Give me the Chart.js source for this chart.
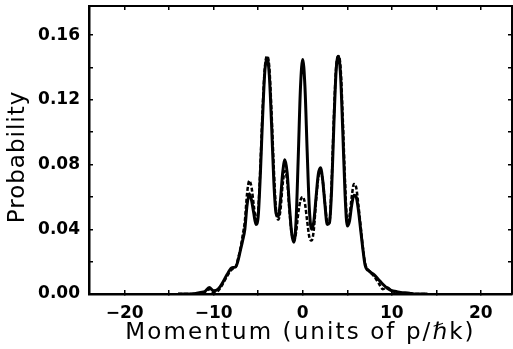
<!DOCTYPE html>
<html>
<head>
<meta charset="utf-8">
<script src="https://cdn.jsdelivr.net/npm/chart.js@4.4.1/dist/chart.umd.min.js"></script>
<style>
  html, body { margin: 0; padding: 0; background: #fff; }
  canvas { display: block; }
</style>
</head>
<body>
<canvas id="chart" width="513" height="349"></canvas>
<script>
// momentum in units of p / hbar k
var momentum = [-14,-12.5,-12,-11.5,-11,-10.5,-10,-9.5,-9,-8.5,-8,-7.5,-7.25,-7,-6.75,-6.5,-6.25,-6,-5.75,-5.5,-5.25,-5,-4.75,-4.5,-4.25,-4,-3.75,-3.5,-3.25,-3,-2.75,-2.5,-2.25,-2,-1.75,-1.5,-1.25,-1,-0.75,-0.5,-0.25,0,0.25,0.5,0.75,1,1.25,1.5,1.75,2,2.25,2.5,2.75,3,3.25,3.5,3.75,4,4.25,4.5,4.75,5,5.25,5.5,5.75,6,6.25,6.5,6.75,7,7.5,8,8.5,9,9.5,10,10.5,11,12,12.5,14];

// solid curve
var solid = [0,0,0.0003,0.001,0.0015,0.004,0.002,0.003,0.007,0.012,0.016,0.017,0.021,0.027,0.033,0.040,0.055,0.062,0.058,0.050,0.043,0.048,0.075,0.110,0.138,0.146,0.135,0.105,0.070,0.050,0.048,0.058,0.075,0.083,0.075,0.055,0.038,0.032,0.045,0.085,0.128,0.145,0.128,0.088,0.052,0.040,0.045,0.060,0.074,0.078,0.070,0.055,0.043,0.044,0.065,0.105,0.138,0.147,0.135,0.100,0.062,0.042,0.045,0.055,0.061,0.060,0.052,0.040,0.028,0.018,0.014,0.012,0.009,0.006,0.0035,0.002,0.0015,0.001,0.0005,0,0];

// dashed curve
var dashed = [0,0,0,0.0005,0.001,0.003,0.001,0.002,0.006,0.011,0.015,0.017,0.022,0.028,0.036,0.045,0.062,0.070,0.066,0.055,0.046,0.052,0.080,0.115,0.140,0.147,0.140,0.112,0.078,0.052,0.046,0.052,0.068,0.076,0.070,0.052,0.038,0.033,0.038,0.050,0.058,0.060,0.056,0.045,0.035,0.033,0.040,0.058,0.072,0.076,0.070,0.056,0.045,0.045,0.070,0.110,0.140,0.147,0.140,0.108,0.070,0.045,0.048,0.060,0.068,0.066,0.055,0.042,0.029,0.019,0.014,0.011,0.007,0.003,0.004,0.002,0.001,0.0005,0,0,0];

var xMin = -24, xMax = 23.5;
var yMin = 0, yMax = 0.178;

function pts(ys){
  return momentum.map(function(x, i){ return {x: x, y: ys[i]}; });
}

// fixed box sizes, and no extra label padding around the plot
function fixSize(w, h){
  return function(s){
    if (w !== null) s.width = w;
    if (h !== null) s.height = h;
    s.paddingTop = 0; s.paddingBottom = 0;
    s.paddingLeft = 0; s.paddingRight = 0;
  };
}

// spaced-out title text like the original print
function spacedTitle(spacing, dy){
  return function(s){
    if (s._spaced) return;
    s._spaced = true;
    var orig = s.drawTitle;
    s.drawTitle = function(){
      var ctx = this.ctx;
      ctx.save();
      ctx.letterSpacing = spacing + 'px';
      ctx.translate(0, dy);
      orig.apply(this, arguments);
      ctx.restore();
    };
  };
}

var tickFont = {family: 'DejaVu Sans', size: 17, weight: 'bold'};
var titleFont = {family: 'DejaVu Sans', size: 23, weight: 'normal'};

new Chart(document.getElementById('chart'), {
  type: 'line',
  data: {
    datasets: [
      {
        data: pts(solid),
        borderColor: '#000',
        borderWidth: 3,
        pointRadius: 0,
        cubicInterpolationMode: 'monotone',
        fill: false
      },
      {
        data: pts(dashed),
        borderColor: '#000',
        borderWidth: 2.5,
        borderDash: [4, 2],
        pointRadius: 0,
        cubicInterpolationMode: 'monotone',
        fill: false
      }
    ]
  },
  options: {
    responsive: false,
    animation: false,
    layout: {padding: 0},
    plugins: {legend: {display: false}, tooltip: {enabled: false}},
    scales: {
      x: {
        type: 'linear',
        position: 'bottom',
        min: xMin, max: xMax,
        afterFit: fixSize(null, 55),
        afterUpdate: spacedTitle(2.1, 0),
        border: {color: '#000', width: 2.5},
        grid: {drawOnChartArea: false, color: '#000', tickLength: -4, lineWidth: 1.5},
        ticks: {
          stepSize: 5,
          includeBounds: false,
          maxRotation: 0,
          autoSkip: false,
          padding: 13,
          color: '#000',
          font: tickFont,
          callback: function(v){
            if (Math.round(v) % 10 !== 0) return '';
            return v < 0 ? '\u2212' + Math.abs(v) : String(v);
          }
        },
        title: {
          display: true,
          text: 'Momentum (units of p/\u210Fk)',
          color: '#000',
          font: titleFont,
          padding: {top: 0, bottom: 2}
        }
      },
      y: {
        type: 'linear',
        position: 'left',
        min: yMin, max: yMax,
        afterFit: fixSize(89, null),
        afterUpdate: spacedTitle(1, 7),
        border: {color: '#000', width: 2.5},
        grid: {drawOnChartArea: false, color: '#000', tickLength: -4, lineWidth: 1.5},
        ticks: {
          stepSize: 0.02,
          includeBounds: false,
          autoSkip: false,
          padding: 13,
          color: '#000',
          font: tickFont,
          callback: function(v){
            return Math.round(v / 0.02) % 2 === 0 ? v.toFixed(2) : '';
          }
        },
        title: {
          display: true,
          text: 'Probability',
          color: '#000',
          font: titleFont,
          padding: {top: 4, bottom: 0}
        }
      },
      x2: {
        type: 'linear',
        position: 'top',
        min: xMin, max: xMax,
        afterFit: fixSize(null, 6),
        border: {color: '#000', width: 2},
        grid: {drawOnChartArea: false, color: '#000', tickLength: -4, lineWidth: 1.5},
        ticks: {stepSize: 5, includeBounds: false, display: false}
      },
      y2: {
        type: 'linear',
        position: 'right',
        min: yMin, max: yMax,
        afterFit: fixSize(1, null),
        border: {color: '#000', width: 2},
        grid: {drawOnChartArea: false, color: '#000', tickLength: -4, lineWidth: 1.5},
        ticks: {stepSize: 0.02, includeBounds: false, display: false}
      }
    }
  }
});
</script>
</body>
</html>
